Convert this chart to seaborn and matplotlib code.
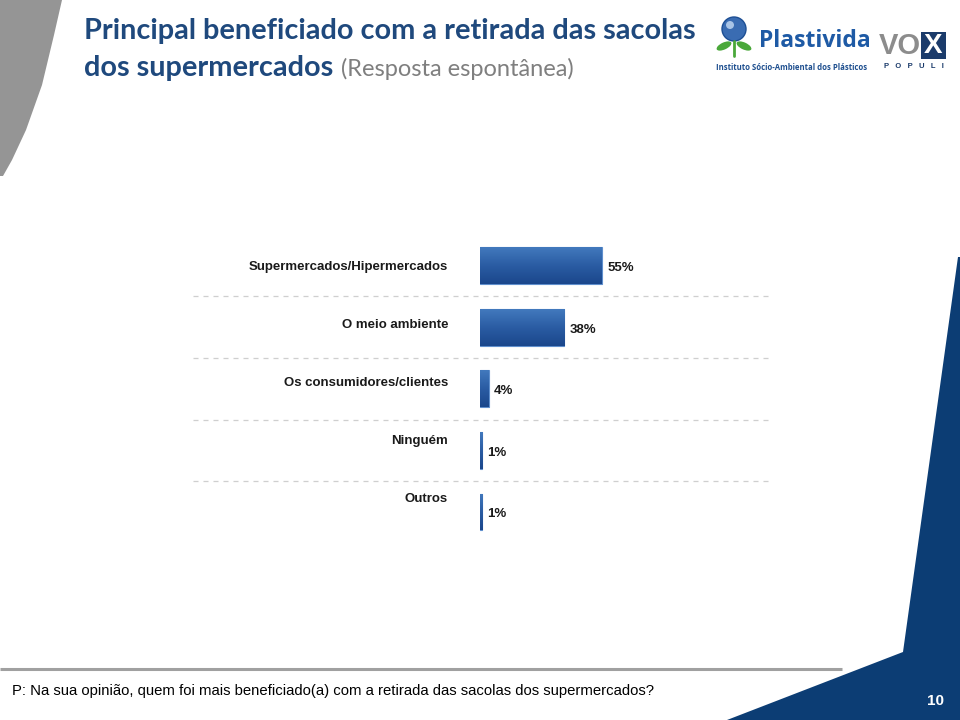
import numpy as np
import pandas as pd
import matplotlib
matplotlib.use("Agg")
import matplotlib.pyplot as plt
import seaborn as sns
from matplotlib.colors import LinearSegmentedColormap
from matplotlib.patches import Polygon, Circle, Ellipse, Rectangle

# ---- data ----
categories = ["Supermercados/Hipermercados", "O meio ambiente",
              "Os consumidores/clientes", "Ninguém", "Outros"]
values = [55, 38, 4, 1, 1]
value_labels = ["55%", "38%", "4%", "1%", "1%"]

title_line1 = "Principal beneficiado com a retirada das sacolas"
title_line2a = "dos supermercados"
title_line2b = "(Resposta espontânea)"
footnote = "P: Na sua opinião, quem foi mais beneficiado(a) com a retirada das sacolas dos supermercados?"
page_number = "10"

df = pd.DataFrame({"categoria": categories, "valor": values})

sns.set_theme(style="white")
plt.rcParams['font.family'] = ['Liberation Sans', 'DejaVu Sans']

W, H = 960, 720
fig = plt.figure(figsize=(9.6, 7.2), dpi=100)

# ---- background decoration layer (pixel coordinates) ----
bg = fig.add_axes([0, 0, 1, 1], zorder=0)
bg.set_xlim(0, W)
bg.set_ylim(H, 0)
bg.axis("off")

# grey wedge top-left
wedge = Polygon([(0, 0), (62, 0), (54, 35), (42, 85), (26, 130), (12, 160), (3, 176), (0, 176)],
                closed=True, facecolor="#959595", edgecolor="none")
bg.add_patch(wedge)

# navy shape bottom-right
navy = "#0c3d74"
shape = Polygon([(958, 257), (960, 257), (960, 720), (727, 720), (903, 652)],
                closed=True, facecolor=navy, edgecolor="none")
bg.add_patch(shape)

# grey rule above footnote
bg.plot([0, 842], [669, 669], color="#a0a0a0", lw=2.2, solid_capstyle="butt")

# title
title_color = "#1f497d"
bg.text(84, 31, title_line1, fontsize=20.8, fontweight="bold", color=title_color,
        family=["Lato", "DejaVu Sans"], va="center", ha="left")
t2 = bg.text(84, 68, title_line2a, fontsize=20.8, fontweight="bold", color=title_color,
             family=["Lato", "DejaVu Sans"], va="center", ha="left")
fig.canvas.draw()
bb = t2.get_window_extent()
x_end = bb.x1 + 8
bg.text(x_end, 69, title_line2b, fontsize=17, color="#7f7f7f",
        family=["Lato", "DejaVu Sans"], va="center", ha="left")

# logos (approximated as shapes + text)
bg.add_patch(Circle((734, 29), 12, facecolor="#3a6cb2", edgecolor="#1d4f94", lw=1))
bg.add_patch(Circle((730, 25), 4, facecolor="#a9c4e6", edgecolor="none"))
bg.add_patch(Ellipse((724, 46), 16, 7, angle=-25, facecolor="#4aa83a", edgecolor="none"))
bg.add_patch(Ellipse((744, 46), 16, 7, angle=25, facecolor="#4aa83a", edgecolor="none"))
bg.plot([734, 734], [41, 56], color="#4aa83a", lw=2)
bg.text(759, 41, "Plastivida", fontsize=16.5, fontweight="bold", color="#1e5aa5",
        family=["Open Sans", "DejaVu Sans"], va="center", ha="left")
bg.text(716, 68, "Instituto Sócio-Ambiental dos Plásticos", fontsize=5.6, fontweight="bold",
        color="#1e4f8f", family=["Open Sans", "DejaVu Sans"], va="center", ha="left")
bg.text(879, 46, "VO", fontsize=21, fontweight="bold", color="#8c8c8c",
        family=["Liberation Sans", "DejaVu Sans"], va="center", ha="left")
bg.add_patch(Rectangle((921, 32), 25, 27, facecolor="#1b3b6b", edgecolor="none"))
bg.text(933.5, 46, "X", fontsize=20, fontweight="bold", color="white",
        family=["Liberation Sans", "DejaVu Sans"], va="center", ha="center")
bg.text(914, 67, "P   O   P   U   L   I", fontsize=5.5, fontweight="bold", color="#1b3b6b",
        va="center", ha="center")

# footnote and page number
bg.text(12, 691, footnote, fontsize=10.7, color="#000000", va="center", ha="left")
bg.text(935, 701, page_number, fontsize=11, fontweight="bold", color="white",
        va="center", ha="center")

# ---- chart axes ----
ax_left = 480 / W
ax_width = 290 / W
ax_top = 234.7
ax_bottom = 542.8
ax = fig.add_axes([ax_left, 1 - ax_bottom / H, ax_width, (ax_bottom - ax_top) / H], zorder=2)
ax.patch.set_alpha(0)

sns.barplot(data=df, x="valor", y="categoria", orient="h", ax=ax, color="#2a5aa0",
            width=0.6, edgecolor="#5f8fcd", linewidth=0.8)

xmax = 290 / 2.218
ax.set_xlim(0, xmax)
ax.set_ylim(4.5, -0.5)

# gradient fill for bars
cmap = LinearSegmentedColormap.from_list("barblue", ["#4279bd", "#2a5ca3", "#1b478c"])
grad = np.linspace(0, 1, 64).reshape(-1, 1)
for p in list(ax.patches):
    x0, y0 = p.get_x(), p.get_y()
    w, h = p.get_width(), p.get_height()
    im = ax.imshow(grad, extent=[x0, x0 + w, y0 + h, y0], cmap=cmap, aspect="auto",
                   origin="upper", zorder=p.get_zorder() + 0.1, interpolation="bilinear")
    im.set_clip_path(p)
ax.set_xlim(0, xmax)
ax.set_ylim(4.5, -0.5)

# value labels
for i, (v, lab) in enumerate(zip(values, value_labels)):
    ax.text(v + 2.3, i + 0.04, lab, fontsize=9.5, fontweight="bold", color="#1a1a1a",
            va="center", ha="left")

# dashed separators
for ysep in [0.5, 1.5, 2.5, 3.5]:
    ax.axhline(ysep, xmin=(193 - 480) / 290, xmax=1.0, color="#cfcfcf", lw=0.9,
               ls=(0, (4, 4)), clip_on=False, zorder=0)

# category labels sit on a slightly tighter pitch than the bars
label_pitch = 0.94
ax.set_yticks([i * label_pitch for i in range(len(categories))])
ax.set_yticklabels(categories)

ax.set_xlabel("")
ax.set_ylabel("")
ax.set_xticks([])
ax.tick_params(axis="y", length=0, pad=23)
for lbl in ax.get_yticklabels():
    lbl.set_fontsize(9.5)
    lbl.set_fontweight("bold")
    lbl.set_color("#1a1a1a")
for s in ax.spines.values():
    s.set_visible(False)

fig.savefig("out.png", dpi=100)
